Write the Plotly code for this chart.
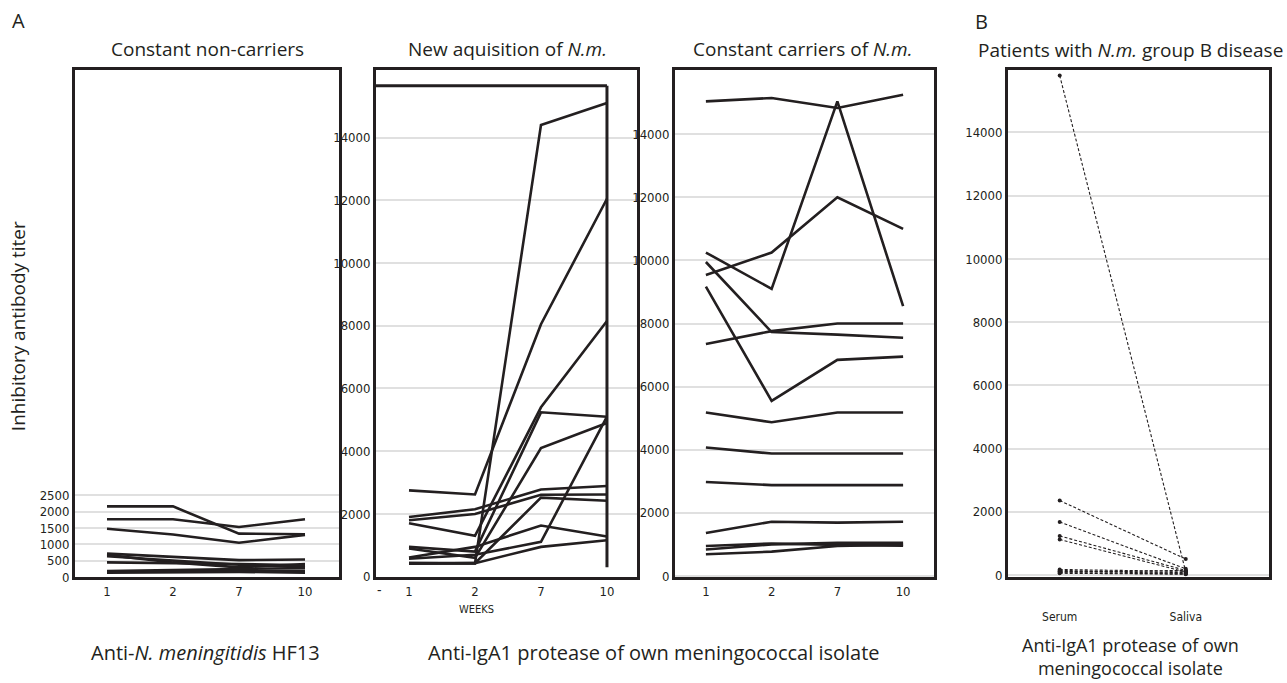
import plotly.graph_objects as go

W, H = 1287, 683

weeks = ["1", "2", "7", "10"]

# Panel A1: constant non-carriers (Anti-N. meningitidis HF13)
noncarriers = [
    [2160, 2160, 1330, 1310],
    [1770, 1770, 1530, 1770],
    [1480, 1300, 1050, 1290],
    [720, 620, 520, 540],
    [680, 450, 300, 400],
    [640, 500, 380, 300],
    [450, 430, 400, 360],
    [190, 230, 250, 270],
    [160, 190, 180, 190],
    [140, 150, 160, 140],
]

# Panel A2: new acquisition of N.m.
new_acq = [
    [2750, 2620, 8050, 12050],
    [1900, 2150, 2780, 2890],
    [1800, 2000, 2610, 2620],
    [1700, 1300, 5400, 8150],
    [430, 420, 14400, 15100],
    [950, 800, 5240, 5100],
    [900, 600, 4100, 4900],
    [430, 430, 2520, 2420],
    [610, 950, 1630, 1280],
    [570, 700, 1110, 5100],
    [410, 430, 950, 1160],
]

# Panel A3: constant carriers of N.m.
carriers = [
    [15040, 15150, 14830, 15250],
    [10250, 9100, 15040, 8550],
    [9540, 10250, 12000, 11000],
    [9950, 7730, 7650, 7550],
    [7350, 7760, 8000, 8000],
    [9170, 5550, 6850, 6950],
    [5180, 4870, 5180, 5180],
    [4070, 3880, 3880, 3880],
    [2980, 2880, 2880, 2880],
    [1360, 1720, 1690, 1720],
    [950, 1030, 980, 960],
    [840, 1000, 1050, 1050],
    [690, 770, 950, 990],
]

# Panel B: patients with N.m. group B disease
sample_types = ["Serum", "Saliva"]
patients = [
    [15800, 100],
    [2360, 510],
    [1680, 200],
    [1240, 150],
    [1130, 100],
    [180, 120],
    [150, 80],
    [120, 60],
    [100, 150],
    [80, 40],
    [60, 30],
]

INK = "#231f20"
GRID = "#e0e0e0"
TITLE_FONT = "Open Sans, Noto Sans, sans-serif"
TICK_FONT = "Liberation Sans Narrow, DejaVu Sans Condensed, Roboto, sans-serif"


def px(x):
    return x / W


def py(y):
    return 1 - y / H


TOP, BOT = 71, 584
panels = [
    # (x-left, x-right, xrange, yrange, yticks)
    (75, 339, [-0.485, 3.515], [0, 15480], [0, 500, 1000, 1500, 2000, 2500]),
    (376, 637, [-0.5, 3.455], [-16, 16150], list(range(0, 14001, 2000))),
    (675, 934, [-0.47, 3.47], [-38, 16030], list(range(0, 14001, 2000))),
    (1008, 1269, [-0.41, 1.66], [-63, 15970], list(range(0, 14001, 2000))),
]

fig = go.Figure()
layout = dict(
    width=W, height=H, autosize=False,
    margin=dict(l=0, r=0, t=0, b=0),
    paper_bgcolor="white", plot_bgcolor="white",
    showlegend=False,
)

for i, (xl, xr, xrng, yrng, yt) in enumerate(panels, start=1):
    xa = dict(
        domain=[px(xl), px(xr)], range=xrng, anchor=f"y{i}",
        showline=True, mirror=True, linewidth=3, linecolor=INK,
        showgrid=False, zeroline=False, ticks="",
        tickfont=dict(family=TICK_FONT, size=13, color=INK),
        fixedrange=True,
    )
    if i < 4:
        xa.update(tickvals=[0, 1, 2, 3], ticktext=weeks)
    else:
        xa.update(tickvals=[0, 1], ticktext=sample_types, ticklabelstandoff=26,
                  tickfont=dict(family=TICK_FONT, size=12, color=INK))
    ya = dict(
        domain=[py(BOT), py(TOP)], range=yrng, anchor=f"x{i}",
        showline=True, mirror=True, linewidth=3, linecolor=INK,
        showgrid=True, gridcolor=GRID, gridwidth=2, zeroline=False,
        ticks="", tickvals=yt, ticktext=[str(v) for v in yt],
        tickfont=dict(family=TICK_FONT, size=13, color=INK),
        fixedrange=True,
    )
    layout[f"xaxis{i}" if i > 1 else "xaxis"] = xa
    layout[f"yaxis{i}" if i > 1 else "yaxis"] = ya

line_style = dict(color=INK, width=2.6)

for series in noncarriers:
    fig.add_trace(go.Scatter(x=[0, 1, 2, 3], y=series, mode="lines",
                             line=line_style, xaxis="x", yaxis="y",
                             hoverinfo="skip"))
for series in new_acq:
    fig.add_trace(go.Scatter(x=[0, 1, 2, 3], y=series, mode="lines",
                             line=line_style, xaxis="x2", yaxis="y2",
                             hoverinfo="skip"))
for series in carriers:
    fig.add_trace(go.Scatter(x=[0, 1, 2, 3], y=series, mode="lines",
                             line=line_style, xaxis="x3", yaxis="y3",
                             hoverinfo="skip"))
for series in patients:
    fig.add_trace(go.Scatter(x=[0, 1], y=series, mode="lines+markers",
                             line=dict(color=INK, width=1.1, dash="3px,2px"),
                             marker=dict(color=INK, size=4),
                             xaxis="x4", yaxis="y4", hoverinfo="skip"))

# inner frame of the "new acquisition" panel
shapes = [
    dict(type="line", xref="x2", yref="y2", x0=-0.5, x1=3, y0=15650, y1=15650,
         line=dict(color=INK, width=3)),
    dict(type="line", xref="x2", yref="y2", x0=3, x1=3, y0=15650, y1=300,
         line=dict(color=INK, width=3)),
]

annotations = []


def txt(text, x, y, size=19, xanchor="center", family=TITLE_FONT, angle=0):
    annotations.append(dict(
        text=text, x=px(x), y=py(y), xref="paper", yref="paper",
        xanchor=xanchor, yanchor="middle", showarrow=False, textangle=angle,
        font=dict(family=family, size=size, color=INK),
    ))


txt("A", 10, 21, size=20, xanchor="left")
txt("B", 973, 22, size=20, xanchor="left")
txt("Constant non-carriers", 207, 50)
txt("New aquisition of <i>N.m.</i>", 507, 50)
txt("Constant carriers of <i>N.m.</i>", 802, 50)
txt("Patients with <i>N.m.</i> group B disease", 1130, 51)
txt("Inhibitory antibody titer", 18, 330, angle=-90)
txt("WEEKS", 476, 617, size=11, family=TICK_FONT)
txt("-", 379, 597, size=14, family=TICK_FONT)
txt("Anti-<i>N. meningitidis</i> HF13", 205, 660, size=20)
txt("Anti-IgA1 protease of own meningococcal isolate", 654, 660, size=20)
txt("Anti-IgA1 protease of own<br>meningococcal isolate", 1130, 664, size=18)

layout["shapes"] = shapes
layout["annotations"] = annotations
fig.update_layout(**layout)

fig.write_html("out.html", config={"displayModeBar": False})
